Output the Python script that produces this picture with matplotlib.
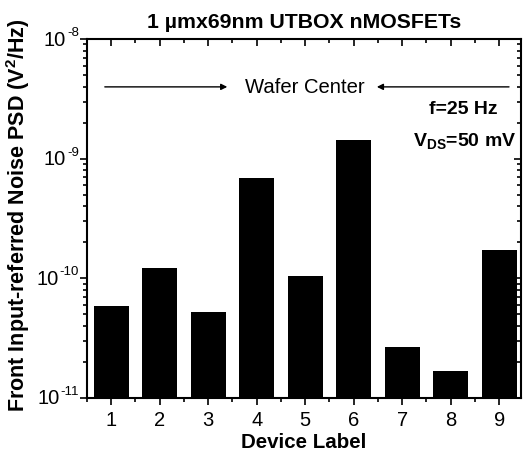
import matplotlib.pyplot as plt
from matplotlib.ticker import LogLocator, FixedLocator, NullFormatter

plt.rcParams['font.family'] = ['Liberation Sans', 'DejaVu Sans']
plt.rcParams['mathtext.fontset'] = 'custom'
plt.rcParams['mathtext.rm'] = 'Liberation Sans'
plt.rcParams['mathtext.bf'] = 'Liberation Sans:bold'

devices = [1, 2, 3, 4, 5, 6, 7, 8, 9]
psd = [5.9e-11, 1.22e-10, 5.2e-11, 6.9e-10, 1.05e-10, 1.43e-9, 2.65e-11, 1.68e-11, 1.72e-10]
decades = [-11, -10, -9, -8]

fig = plt.figure(figsize=(5.23, 4.56), dpi=100)
ax = fig.add_axes([87/523, 1-399/456, (521-87)/523, (399-40)/456])

ax.set_yscale('log')
ax.bar(devices, psd, width=0.72, color='black')
ax.set_ylim(1e-11, 1e-8)
ax.set_xlim(0.5, 9.45)
ax.set_xticks(devices)
ax.xaxis.set_minor_locator(FixedLocator([d + 0.5 for d in [0] + devices]))
ax.set_yticks([10.0**d for d in decades])
ax.yaxis.set_major_formatter(NullFormatter())
ax.yaxis.set_minor_locator(LogLocator(base=10, subs=range(2, 10)))
ax.yaxis.set_minor_formatter(NullFormatter())

for s in ax.spines.values():
    s.set_linewidth(1.5)
ax.tick_params(which='both', direction='out', width=1.2, labelsize=14.5)
ax.tick_params(which='major', length=5)
ax.tick_params(which='minor', length=3)
ax.tick_params(axis='x', pad=4)
ax.tick_params(which='both', top=True, right=True)
# top/right ticks point inward
for t in ax.xaxis.get_major_ticks() + ax.xaxis.get_minor_ticks():
    t.tick2line.set_marker(3)
for t in ax.yaxis.get_major_ticks() + ax.yaxis.get_minor_ticks():
    t.tick2line.set_marker(0)

# y tick labels: 10 with a small exponent
for d in decades:
    ex = ax.annotate(str(d), xy=(0, 10.0**d), xycoords=('axes fraction', 'data'),
                     xytext=(-8, 7), textcoords='offset pixels',
                     ha='right', va='center', fontsize=9.5)
    ax.annotate('10', xy=(0, 0.5), xycoords=ex, xytext=(-1, -7),
                textcoords='offset pixels', ha='right', va='center', fontsize=14.5)

ax.set_xlabel('Device Label', fontsize=14.8, fontweight='bold', labelpad=2)
ax.set_ylabel(r'Front Input-referred Noise PSD (V$^\mathbf{2}$/Hz)', fontsize=15.5,
              fontweight='bold')
ax.yaxis.set_label_coords(-0.127, 0.5125)
ax.set_title('1 µmx69nm UTBOX nMOSFETs', fontsize=15.3, fontweight='bold', pad=9)

yarr = 3.98e-9
ax.annotate('', xy=(3.45, yarr), xytext=(0.81, yarr),
            arrowprops=dict(arrowstyle='-|>', color='black', lw=1, mutation_scale=9))
ax.annotate('', xy=(6.42, yarr), xytext=(9.26, yarr),
            arrowprops=dict(arrowstyle='-|>', color='black', lw=1, mutation_scale=9))
ax.text(5.0, yarr, 'Wafer Center', ha='center', va='center', fontsize=14.6)
ax.text(0.866, 0.806, 'f=25 Hz', transform=ax.transAxes, ha='center', va='center',
        fontsize=14, fontweight='bold')
ax.text(0.871, 0.715, r'V$_{\mathbf{DS}}$=50 mV', transform=ax.transAxes, ha='center', va='center',
        fontsize=14, fontweight='bold')

fig.savefig('out.png', dpi=100)
